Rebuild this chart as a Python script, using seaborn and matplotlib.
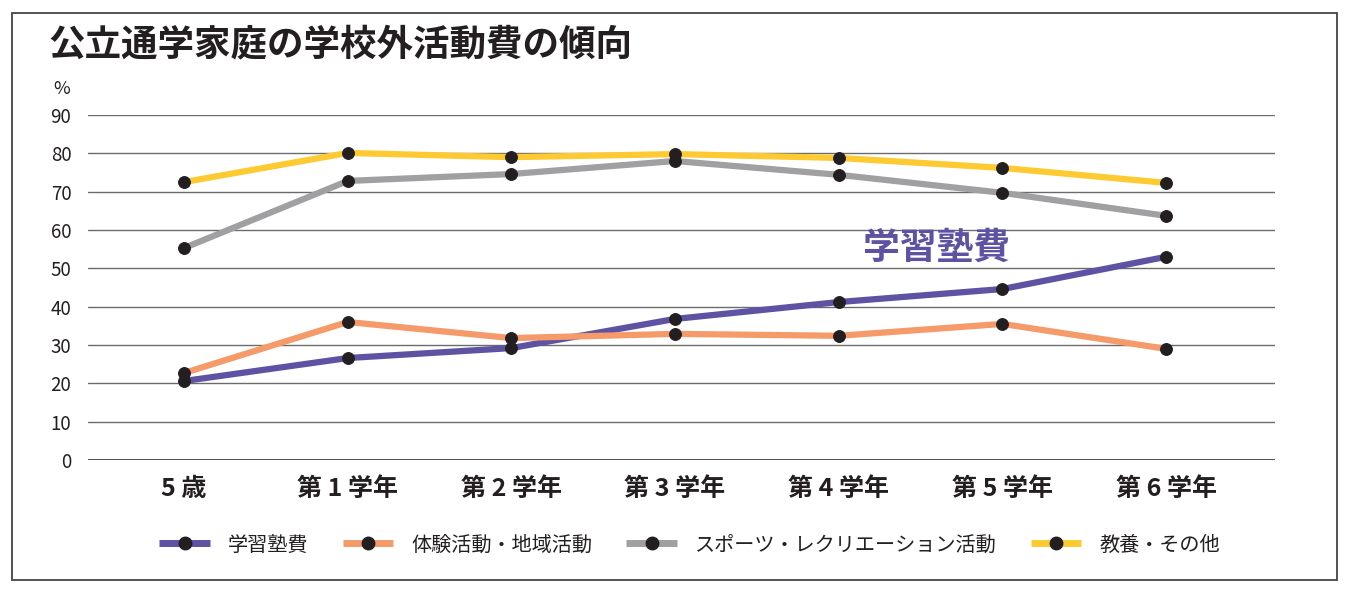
import numpy as np
import pandas as pd
import seaborn as sns
import matplotlib.pyplot as plt
from matplotlib.lines import Line2D
from matplotlib.patches import Rectangle

# data (%)
grades = ['5 歳', '第 1 学年', '第 2 学年', '第 3 学年', '第 4 学年', '第 5 学年', '第 6 学年']
juku = [20.6, 26.6, 29.2, 36.8, 41.2, 44.6, 53.0]
taiken = [22.7, 36.0, 31.8, 32.9, 32.4, 35.5, 29.0]
sports = [55.3, 72.8, 74.6, 78.0, 74.4, 69.7, 63.7]
kyoyo = [72.5, 80.1, 79.0, 79.8, 78.8, 76.2, 72.3]
series_names = ['学習塾費', '体験活動・地域活動', 'スポーツ・レクリエーション活動', '教養・その他']
colors = ['#5e52a2', '#f59a69', '#a0a0a3', '#fdca32']
y_ticks = [0, 10, 20, 30, 40, 50, 60, 70, 80, 90]

sns.set_theme(style='white')
plt.rcParams['font.family'] = ['Noto Sans CJK JP', 'DejaVu Sans']

rows = []
for name, vals in zip(series_names, [juku, taiken, sports, kyoyo]):
    for i, v in enumerate(vals):
        rows.append({'x': i, 'value': v, 'series': name})
df = pd.DataFrame(rows)

fig = plt.figure(figsize=(13.47, 5.9), dpi=100)
ax = fig.add_axes([88 / 1347, 1 - 460 / 590, (1275 - 88) / 1347, (460 - 115) / 590])

for name, col in zip(series_names, colors):
    sns.lineplot(data=df[df['series'] == name], x='x', y='value', ax=ax,
                 color=col, linewidth=4.5, marker='o', markersize=8.5,
                 markerfacecolor='#231f20', markeredgecolor='#231f20',
                 solid_capstyle='butt', legend=False, zorder=3)

for t in y_ticks:
    ax.axhline(t, color='#231f20' if t == 0 else '#6b6b6b', lw=1.1 if t == 0 else 1.0, zorder=1)

ax.set_xlim(-0.587, 6.666)
ax.set_ylim(0, 90)
ax.set_yticks(y_ticks)
ax.set_xticks(range(len(grades)))
ax.set_xticklabels(grades, fontsize=18, fontweight='bold', color='#231f20')
ax.tick_params(axis='x', length=0, pad=12)
ax.tick_params(axis='y', length=0, pad=12, labelsize=13.5, labelcolor='#231f20')
ax.set_xlabel('')
ax.set_ylabel('')
for s in ax.spines.values():
    s.set_visible(False)

ax.text(-0.022, 1.075, '%', transform=ax.transAxes, fontsize=13, color='#231f20',
        ha='center', va='center')

ax.text(4.6, 55.2, '学習塾費', fontsize=26.5, fontweight='bold', color='#5e52a2',
        ha='center', va='center')

fig.text(48 / 1347, 1 - 45 / 590, '公立通学家庭の学校外活動費の傾向', fontsize=26.3,
         fontweight='bold', color='#231f20', ha='left', va='center')

handles = [Line2D([0], [0], color=c, lw=5, marker='o', markersize=9,
                  markerfacecolor='#231f20', markeredgecolor='#231f20',
                  solid_capstyle='butt') for c in colors]
fig.legend(handles, series_names, loc='center', bbox_to_anchor=(0.512, 1 - 545 / 590),
           ncol=4, frameon=False, fontsize=14.5, handlelength=2.5, handletextpad=0.9,
           columnspacing=1.7, labelcolor='#231f20')

fig.patches.append(Rectangle((12 / 1347, 10 / 590), (1337 - 12) / 1347, (577 - 10) / 590,
                             transform=fig.transFigure, fill=False, edgecolor='#444444', lw=1.3))

fig.savefig('out.png', dpi=100)
